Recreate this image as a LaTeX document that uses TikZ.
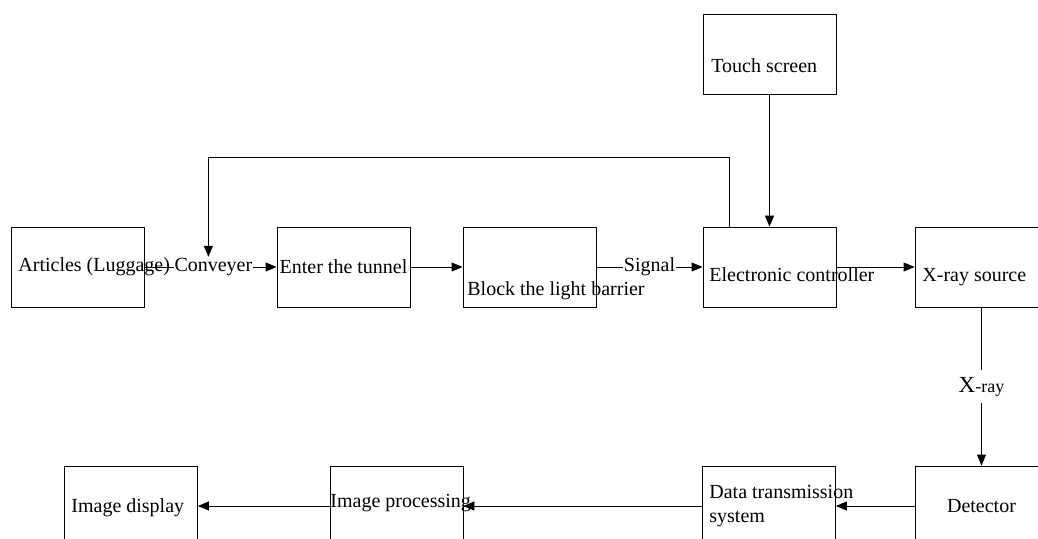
\documentclass[tikz,border=0pt]{standalone}
\usepackage{fontspec}
\setmainfont{Liberation Serif}
\usetikzlibrary{arrows.meta}

\begin{document}
\begin{tikzpicture}[x=1bp,y=-1bp,>={Triangle[length=11bp,width=9bp]},line width=0.8bp,
  every node/.style={font=\fontsize{20bp}{24bp}\selectfont}]
\tikzstyle{box}=[draw,minimum width=133bp,minimum height=80bp,inner sep=0pt]
\tikzstyle{txt}=[inner sep=0pt,anchor=base west]
\tikzstyle{lbl}=[fill=white,inner sep=1bp]
  \clip (0,0) rectangle (1038,539);

  % boxes
  \node (arts) at (78,267) [box] {};
  \node (tunnel) at (343.5,267) [box] {Enter the tunnel};
  \node (block) at (529.5,267) [box] {};
  \node (ctrl) at (769.5,267) [box] {};
  \node (touch) at (769.5,54) [box] {};
  \node (xsrc) at (981.5,267) [box] {};
  \node (det) at (981.5,506) [box] {Detector};
  \node (data) at (769,506) [box] {};
  \node (proc) at (396.5,506) [box] {};
  \node (disp) at (131,506) [box] {};

  % texts
  \node (artstxt) at (18,272) [txt] {Articles (Luggage)};
  \node (blocktxt) at (467,296) [txt] {Block the light barrier};
  \node (ctrltxt) at (709,282) [txt] {Electronic controller};
  \node (touchtxt) at (711,73) [txt] {Touch screen};
  \node (xsrctxt) at (922,282) [txt] {X-ray source};
  \node (datatxt) at (709,522) [txt,align=left] {Data transmission\\system};
  \node (proctxt) at (330,507) [txt] {Image processing};
  \node (disptxt) at (71,512) [txt] {Image display};

  % connectors
  \draw [->] (arts) -- node[lbl,pos=0.52] (conv) {Conveyer} (tunnel);
  \draw [->] (tunnel) -- (block);
  \draw [->] (block) -- node[lbl] (sig) {Signal} (ctrl);
  \draw [->] (ctrl) -- (xsrc);
  \draw [->] (touch) -- (ctrl);
  \draw [->] ([xshift=-40.5bp]ctrl.north) -- ++(0,-69.5) -| ([xshift=-5bp]conv.north);
  \draw [->] (xsrc) -- node[lbl,inner ysep=7bp] (ray) {{\fontsize{23bp}{24bp}\selectfont X}{\fontsize{18bp}{24bp}\selectfont -ray}} (det);
  \draw [->] (det) -- (data);
  \draw [->] (data) -- (proc);
  \draw [->] (proc) -- (disp);
\end{tikzpicture}
\end{document}
